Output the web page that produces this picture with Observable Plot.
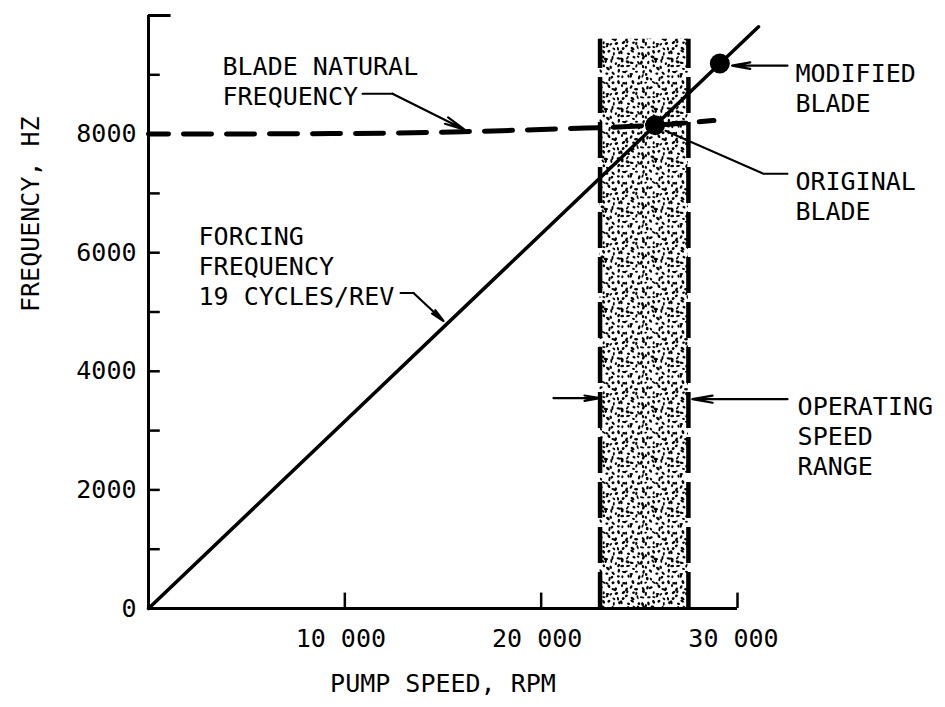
<!DOCTYPE html>
<html><head><meta charset="utf-8">
<script src="https://cdn.jsdelivr.net/npm/d3@7"></script>
<script src="https://cdn.jsdelivr.net/npm/@observablehq/plot@0.6"></script>
<style>
html,body{margin:0;padding:0;background:#fff;}
#chart svg{display:block;}
</style></head><body><div id="chart"></div>
<script>
// ---------- DATA ----------
const forcingRpm = [0, 31070];
const forcingHz = [0, 9810];
const naturalRpm = [0, 10000, 16000, 21000, 25800, 28800];
const naturalHz = [8000, 8010, 8040, 8090, 8150, 8230];
const operatingRange = [23000, 27500];
const operatingTopHz = 9600;
const bladeNames = ["ORIGINAL", "MODIFIED"];
const bladeRpm = [25800, 29100];
const bladeHz = [8150, 9190];
const xTickValues = [10000, 20000, 30000];
const xTickLabels = ["10 000", "20 000", "30 000"];
const yTickValues = [0, 2000, 4000, 6000, 8000];
const yTickLabels = ["0", "2000", "4000", "6000", "8000"];
const yMinorTicks = [1000, 2000, 3000, 4000, 5000, 6000, 7000, 8000, 9000];
const xAxisEnd = 30000;
const yAxisTop = 10000;
const xTitle = "PUMP SPEED, RPM";
const yTitle = "FREQUENCY, HZ";
const annotationTexts = [
  "BLADE NATURAL\nFREQUENCY",
  "FORCING\nFREQUENCY\n19 CYCLES/REV",
  "MODIFIED\nBLADE",
  "ORIGINAL\nBLADE",
  "OPERATING\nSPEED\nRANGE"
];

// ---------- LAYOUT (annotation anchors, in data units) ----------
const annotationAnchors = [[3770, 9360], [2550, 6490], [32950, 9240], [32950, 7420], [33060, 3615]];
const leaderPaths = [
  [[10900, 8682], [12428, 8682]],
  [[12835, 5321], [13497, 5321]],
  [[32547, 7331], [31325, 7331], [26333, 8057]]
];
const arrowSegs = [
  [12428, 8682, 16100, 8075],
  [13497, 5321, 15025, 4848],
  [32547, 9155, 29720, 9155],
  [20628, 3547, 22980, 3547],
  [32547, 3530, 27700, 3530]
];

// ---------- BUILD TABLES ----------
const forcing = forcingRpm.map((x, i) => ({x, y: forcingHz[i]}));
const natural = naturalRpm.map((x, i) => ({x, y: naturalHz[i]}));
const blades = bladeNames.map((n, i) => ({n, x: bladeRpm[i], y: bladeHz[i]}));
const xTicks = xTickValues.map((v, i) => ({v, label: xTickLabels[i]}));
const yTicks = yTickValues.map((v, i) => ({v, label: yTickLabels[i]}));
const annotations = annotationTexts.map((t, i) => ({t, x: annotationAnchors[i][0], y: annotationAnchors[i][1]}));
const leaders = leaderPaths.flatMap((p, k) => p.map(([x, y]) => ({k, x, y})));
const arrows = arrowSegs.map(([x1, y1, x2, y2]) => ({x1, y1, x2, y2}));

const FONT = "DejaVu Sans Mono";
const FS = 25;

const svg = Plot.plot({
  width: 945, height: 707,
  marginLeft: 148, marginRight: 208, marginTop: 15, marginBottom: 99,
  x: {domain: [0, xAxisEnd], axis: null},
  y: {domain: [0, yAxisTop], axis: null},
  style: {fontFamily: FONT, background: "#fff", color: "#000"},
  marks: [
    // operating range (stippled)
    Plot.rect([operatingRange], {x1: d => d[0], x2: d => d[1], y1: 0, y2: operatingTopHz, fill: "url(#stipple)"}),
    Plot.ruleX(operatingRange, {y1: 0, y2: operatingTopHz, stroke: "#000", strokeWidth: 4.5, strokeDasharray: "36,9"}),
    // axes
    Plot.ruleX([0], {y1: 0, y2: yAxisTop, strokeWidth: 3}),
    Plot.ruleY([0], {x1: 0, x2: xAxisEnd, strokeWidth: 3}),
    Plot.ruleY(yMinorTicks, {x1: 0, x2: 600, strokeWidth: 2.5}),
    Plot.ruleY([yAxisTop], {x1: 0, x2: 1150, strokeWidth: 3}),
    Plot.ruleX(xTickValues, {y1: 0, y2: 260, strokeWidth: 2.5}),
    Plot.text(xTicks, {x: "v", y: 0, text: "label", dy: 30, dx: -4, fontSize: FS, textAnchor: "middle"}),
    Plot.text(yTicks, {x: 0, y: "v", text: "label", dx: -12, fontSize: FS, textAnchor: "end"}),
    Plot.text([yTitle], {frameAnchor: "left", dx: -118, rotate: -90, fontSize: FS}),
    Plot.text([xTitle], {frameAnchor: "bottom", dy: 83, fontSize: FS}),
    // natural frequency (dashed)
    Plot.line(natural, {x: "x", y: "y", curve: "monotone-x", strokeWidth: 5, strokeDasharray: "28,15", strokeDashoffset: 8}),
    // forcing frequency
    Plot.line(forcing, {x: "x", y: "y", strokeWidth: 3.5}),
    // blade points
    Plot.dot(blades, {x: "x", y: "y", r: 10, fill: "#000"}),
    // leaders and arrows
    Plot.line(leaders, {x: "x", y: "y", z: "k", strokeWidth: 2}),
    Plot.arrow(arrows, {x1: "x1", y1: "y1", x2: "x2", y2: "y2", strokeWidth: 2.2, headLength: 14, headAngle: 20}),
    // annotation text
    Plot.text(annotations, {x: "x", y: "y", text: "t", textAnchor: "start", lineAnchor: "top", lineHeight: 1.2, fontSize: FS})
  ]
});

// stipple texture for the operating range (decorative pattern only)
const T = 50;
const defs = d3.select(svg).insert("defs", ":first-child");
const pat = defs.append("pattern").attr("id", "stipple").attr("patternUnits", "userSpaceOnUse")
  .attr("width", T).attr("height", T);
pat.append("rect").attr("width", T).attr("height", T).attr("fill", "#fff");
let seed = 98765;
const rnd = () => (seed = (seed * 16807) % 2147483647) / 2147483647;
for (let gx = 0; gx < T; gx += 5) for (let gy = 0; gy < T; gy += 5) {
  const cx = gx + 2.5 + (rnd() - 0.5) * 4, cy = gy + 2.5 + (rnd() - 0.5) * 4, a = rnd() * 180;
  const rx = 1.4 + rnd() * 0.9, ry = 0.9 + rnd() * 0.5;
  for (const ox of [-T, 0, T]) for (const oy of [-T, 0, T]) {
    const px = cx + ox, py = cy + oy;
    if (px < -4 || px > T + 4 || py < -4 || py > T + 4) continue;
    pat.append("ellipse").attr("cx", px.toFixed(2)).attr("cy", py.toFixed(2))
      .attr("rx", rx.toFixed(2)).attr("ry", ry.toFixed(2))
      .attr("transform", `rotate(${a.toFixed(1)} ${px.toFixed(2)} ${py.toFixed(2)})`).attr("fill", "#000");
  }
}
document.getElementById("chart").appendChild(svg);
</script>
</body></html>
